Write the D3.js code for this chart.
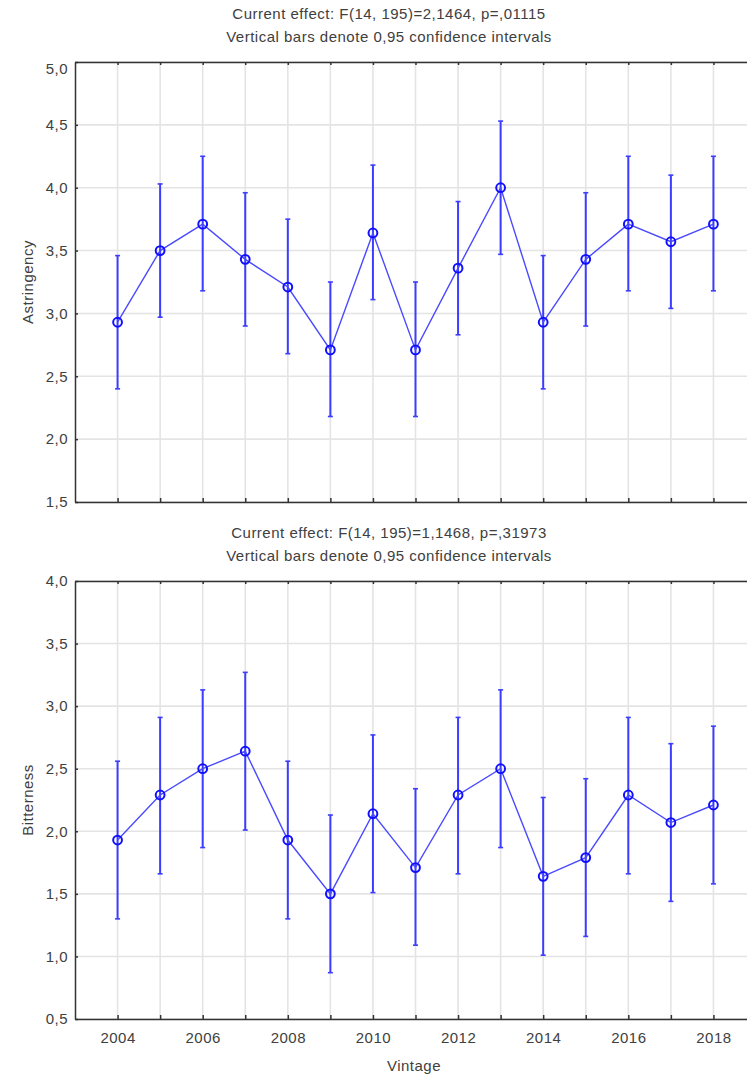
<!DOCTYPE html>
<html>
<head>
<meta charset="utf-8" />
<script src="https://d3js.org/d3.v7.min.js"></script>
<style>
  body { margin: 0; background: #fff; }
  svg text { font-family: "Liberation Sans", Arial, sans-serif; fill: #404040; letter-spacing: 0.5px; }
  .grid line { stroke: #e4e4e4; stroke-width: 1.6; }
  .axis path, .axis line { stroke: #333; stroke-width: 1.5; }
</style>
</head>
<body>
<svg width="747" height="1075"></svg>
<script>
const years = [2004, 2005, 2006, 2007, 2008, 2009, 2010, 2011, 2012, 2013, 2014, 2015, 2016, 2017, 2018];
const yearLabels = [2004, 2006, 2008, 2010, 2012, 2014, 2016, 2018];

// Astringency: means and 0.95 CI bounds
const astringency     = [2.93, 3.50, 3.71, 3.43, 3.21, 2.71, 3.64, 2.71, 3.36, 4.00, 2.93, 3.43, 3.71, 3.57, 3.71];
const astringencyLow  = [2.40, 2.97, 3.18, 2.90, 2.68, 2.18, 3.11, 2.18, 2.83, 3.47, 2.40, 2.90, 3.18, 3.04, 3.18];
const astringencyHigh = [3.46, 4.03, 4.25, 3.96, 3.75, 3.25, 4.18, 3.25, 3.89, 4.53, 3.46, 3.96, 4.25, 4.10, 4.25];
const astringencyTicks = [1.5, 2.0, 2.5, 3.0, 3.5, 4.0, 4.5, 5.0];

// Bitterness
const bitterness     = [1.93, 2.29, 2.50, 2.64, 1.93, 1.50, 2.14, 1.71, 2.29, 2.50, 1.64, 1.79, 2.29, 2.07, 2.21];
const bitternessLow  = [1.30, 1.66, 1.87, 2.01, 1.30, 0.87, 1.51, 1.09, 1.66, 1.87, 1.01, 1.16, 1.66, 1.44, 1.58];
const bitternessHigh = [2.56, 2.91, 3.13, 3.27, 2.56, 2.13, 2.77, 2.34, 2.91, 3.13, 2.27, 2.42, 2.91, 2.70, 2.84];
const bitternessTicks = [0.5, 1.0, 1.5, 2.0, 2.5, 3.0, 3.5, 4.0];

const titleTop = ["Current effect: F(14, 195)=2,1464, p=,01115", "Vertical bars denote 0,95 confidence intervals"];
const titleBottom = ["Current effect: F(14, 195)=1,1468, p=,31973", "Vertical bars denote 0,95 confidence intervals"];

const svg = d3.select("svg");
const fontSize = 15;
const comma = d => d3.format(".1f")(d).replace(".", ",");

const x = d3.scaleLinear().domain([2003, 2019]).range([75, 756]);

function panel(opts) {
  const y = d3.scaleLinear().domain(opts.domain).range([opts.bottom, opts.top]);
  const g = svg.append("g");
  const rows = years.map((yr, i) => ({ yr, m: opts.mean[i], lo: opts.low[i], hi: opts.high[i] }));

  // titles
  g.selectAll(".title").data(opts.title).join("text")
    .attr("x", 389).attr("y", (d, i) => opts.top - 43 + i * 23)
    .attr("text-anchor", "middle").style("font-size", fontSize + "px").text(d => d);

  // grid
  const grid = g.append("g").attr("class", "grid");
  grid.selectAll(".v").data(years).join("line")
    .attr("x1", d => x(d)).attr("x2", d => x(d)).attr("y1", opts.top).attr("y2", opts.bottom);
  grid.selectAll(".h").data(opts.ticks).join("line")
    .attr("x1", x.range()[0]).attr("x2", x.range()[1]).attr("y1", d => y(d)).attr("y2", d => y(d));

  // axes
  g.append("g").attr("class", "axis").attr("transform", `translate(${x.range()[0]},0)`)
    .call(d3.axisLeft(y).tickValues(opts.ticks).tickFormat(comma).tickSize(-3).tickSizeOuter(0).tickPadding(7))
    .call(a => a.selectAll("text").style("font-size", fontSize + "px")
      .attr("dy", d => d === opts.domain[1] && opts.shiftTop ? "0.75em" : "0.32em"));
  g.append("g").attr("class", "axis").attr("transform", `translate(0,${opts.top})`)
    .call(d3.axisTop(x).tickValues(years).tickFormat("").tickSize(-3).tickSizeOuter(0));
  g.append("g").attr("class", "axis").attr("transform", `translate(0,${opts.bottom})`)
    .call(d3.axisBottom(x).tickValues(years).tickSize(-4).tickSizeOuter(0).tickPadding(13)
      .tickFormat(d => opts.xLabels && yearLabels.includes(d) ? d : ""))
    .call(a => a.selectAll("text").style("font-size", fontSize + "px"));

  // y title
  g.append("text")
    .attr("transform", `translate(27,${(opts.top + opts.bottom) / 2}) rotate(-90)`)
    .attr("text-anchor", "middle").attr("dominant-baseline", "central")
    .style("font-size", fontSize + "px").text(opts.label);

  // error bars
  const eb = g.append("g").attr("stroke", "#3d3dff").attr("stroke-width", 2);
  eb.selectAll(".bar").data(rows).join("line")
    .attr("x1", d => x(d.yr)).attr("x2", d => x(d.yr)).attr("y1", d => y(d.lo)).attr("y2", d => y(d.hi));
  eb.selectAll(".capLo").data(rows).join("line").attr("stroke-width", 1.6)
    .attr("x1", d => x(d.yr) - 2.5).attr("x2", d => x(d.yr) + 2.5).attr("y1", d => y(d.lo)).attr("y2", d => y(d.lo));
  eb.selectAll(".capHi").data(rows).join("line").attr("stroke-width", 1.6)
    .attr("x1", d => x(d.yr) - 2.5).attr("x2", d => x(d.yr) + 2.5).attr("y1", d => y(d.hi)).attr("y2", d => y(d.hi));

  // mean line
  g.append("path").datum(rows)
    .attr("fill", "none").attr("stroke", "#4a4aff").attr("stroke-width", 1.4)
    .attr("d", d3.line().x(d => x(d.yr)).y(d => y(d.m)));

  g.selectAll(".pt").data(rows).join("circle")
    .attr("cx", d => x(d.yr)).attr("cy", d => y(d.m)).attr("r", 4.4)
    .attr("fill", "none").attr("stroke", "#1010ff").attr("stroke-width", 2);
}

panel({ top: 62, bottom: 502, domain: [1.5, 5.0], ticks: astringencyTicks,
  mean: astringency, low: astringencyLow, high: astringencyHigh,
  label: "Astringency", title: titleTop, shiftTop: true, xLabels: false });

panel({ top: 581, bottom: 1019, domain: [0.5, 4.0], ticks: bitternessTicks,
  mean: bitterness, low: bitternessLow, high: bitternessHigh,
  label: "Bitterness", title: titleBottom, shiftTop: false, xLabels: true });

svg.append("text")
  .attr("x", 414).attr("y", 1071).attr("text-anchor", "middle")
  .style("font-size", fontSize + "px").text("Vintage");
</script>
</body>
</html>
